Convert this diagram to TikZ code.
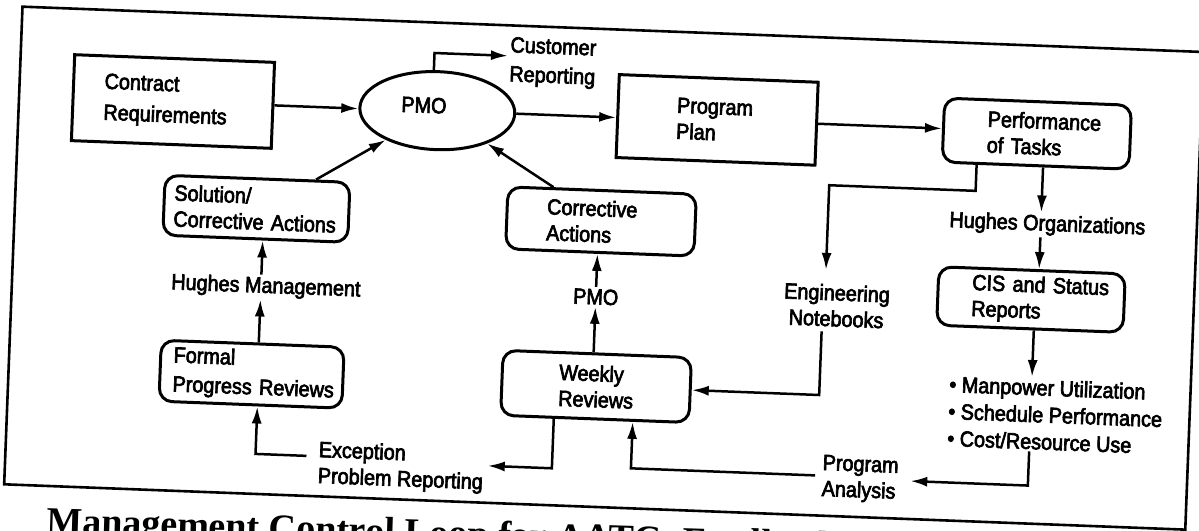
\documentclass[tikz,border=0pt]{standalone}
\usepackage{fontspec}
\setmainfont{Liberation Sans}[FakeStretch=0.9]
\newfontfamily\dgfont{Liberation Sans}[FakeStretch=0.9, FakeBold=3]
\newfontfamily\capserif{Liberation Serif}
\usetikzlibrary{arrows.meta,shapes.geometric,calc}
\hyphenpenalty=10000
\exhyphenpenalty=10000

\begin{document}
\begin{tikzpicture}[x=1pt,y=-1pt,
  every node/.style={font=\dgfont\fontsize{22pt}{26pt}\selectfont},
  sqbox/.style={draw, line width=3pt, align=left, inner ysep=0pt},
  rbox/.style={sqbox, rounded corners=13pt},
  lbl/.style={inner sep=2pt},
  conn/.style={line width=2.5pt, -{Latex[length=17pt,width=10pt]}},
  frame/.style={line width=2.6pt}]
\useasboundingbox (0,0) rectangle (1199,530);

% the whole page sits slightly skewed
\begin{scope}[transform canvas={rotate around={-2.2:(600,265)}}]
\draw[frame] (13,29) rectangle (1195,507);

% top row
\node[sqbox, minimum height=86pt, inner xsep=31pt, text width=138pt,
      font=\dgfont\fontsize{22pt}{31pt}\selectfont] (cr) at (167,118) {Contract\\Requirements};
\node[draw, ellipse, line width=3pt, minimum width=155pt, minimum height=78pt,
      inner sep=0pt] (pmo) at (431.5,117) {};
\node[lbl] (pmot) at (418,112) {PMO};
\node[lbl, anchor=west, align=left, font=\dgfont\fontsize{22pt}{29pt}\selectfont]
      (cust) at (500,65) {Customer\\Reporting};
\node[sqbox, minimum height=83pt, inner xsep=59pt, text width=81pt] (pp) at (711.5,115.5) {Program\\Plan};
\node[rbox, minimum height=64pt, inner xsep=44pt, text width=99pt] (perf) at (1031.5,117) {Performance\\of~Tasks};

% second row
\node[rbox, minimum height=60pt, inner xsep=10pt, text width=165pt] (sol) at (254.5,222) {Solution/\\Corrective~Actions};
\node[rbox, minimum height=62pt, inner xsep=40pt, text width=108.5pt] (cor) at (599.3,221.5) {Corrective\\Actions};
\node[lbl] (ho) at (1045.5,208) {Hughes Organizations};

% third row
\node[lbl] (hm) at (267,300) {Hughes Management};
\node[lbl] (pmol) at (597,297) {PMO};
\node[lbl, align=center] (eng) at (838,296.5) {Engineering\\Notebooks};
\node[rbox, minimum height=58.5pt, inner xsep=34pt, text width=118.5pt] (cis) at (1032,283) {CIS~and~Status\\Reports};

% fourth row
\node[rbox, minimum height=61pt, inner xsep=13pt, text width=157pt,
      font=\dgfont\fontsize{22pt}{29pt}\selectfont] (formal) at (256,387.5) {Formal\\Progress~Reviews};
\node[rbox, minimum height=65pt, inner xsep=57pt, text width=74.5pt] (wk) at (600.7,386.5) {Weekly\\Reviews};
\node[lbl, anchor=west, align=left, font=\dgfont\fontsize{22pt}{27pt}\selectfont]
      (bul) at (951.6,397.6) {• Manpower Utilization\\• Schedule Performance\\• Cost/Resource Use};

% bottom labels
\node[lbl, anchor=west, align=left] (exc) at (324,475) {Exception\\Problem Reporting};
\node[lbl, anchor=west, align=left] (pa) at (828,469) {Program\\Analysis};

% connectors
\draw[conn] (cr.east) -- (cr.east -| pmo.west);
\coordinate (pa1) at ($(pmo.north)+(-5,0)$);
\draw[conn] (pa1) |- ($(cust.west)+(0,-5.5)$);
\draw[conn] (pmo.east) -- (pmo.east -| pp.west);
\draw[conn] (pp.east) -- (pp.east -| perf.west);
\draw[conn] ($(sol.north west)+(152.5,0)$) -- (pmo);
\draw[conn] ($(cor.north west)+(47,0)$) -- (pmo);

\coordinate (fa) at ($(formal.north)+(6,0)$);
\draw[conn] (fa) -- (fa |- hm.south);
\draw[conn] (fa |- hm.north) -- (fa |- sol.south);
\draw[conn] (wk.north -| pmol) -- (pmol.south);
\draw[conn] (pmol.north) -- (pmol.north |- cor.south);

\coordinate (pe) at ($(perf.south west)+(36,0)$);
\draw[conn] (pe) -- ++(0,26) -| ($(eng.north)+(-12,-12)$);
\draw[conn] ($(eng.south)+(-14,3)$) |- (wk.east);
\coordinate (px) at ($(perf.south)+(7.5,0)$);
\draw[conn] (px) -- (px |- ho.north);
\draw[conn] (px |- ho.south) -- (px |- cis.north);
\coordinate (cx) at ($(cis.south)+(4,0)$);
\draw[conn] (cx) -- (cx |- bul.north);
\draw[conn] (cx |- bul.south) |- ($(pa.east)+(10,0)$);
\draw[conn] ($(pa.west)+(-5,-2)$) -| ($(wk.south)+(38,0)$);
\draw[conn] ($(wk.south)+(-41,0)$) |- ($(exc.east)+(2,-5)$);
\draw[conn] ($(exc.west)+(-10,-8)$) -| ($(formal.south)+(7,0)$);
\end{scope}

% caption, cut by the lower edge
\node[anchor=base west, rotate=-1.8, inner sep=0pt,
      font=\capserif\bfseries\fontsize{38pt}{42pt}\selectfont]
      (cap) at (46,533) {Management Control Loop for AATC- Feedback};
\end{tikzpicture}
\end{document}
